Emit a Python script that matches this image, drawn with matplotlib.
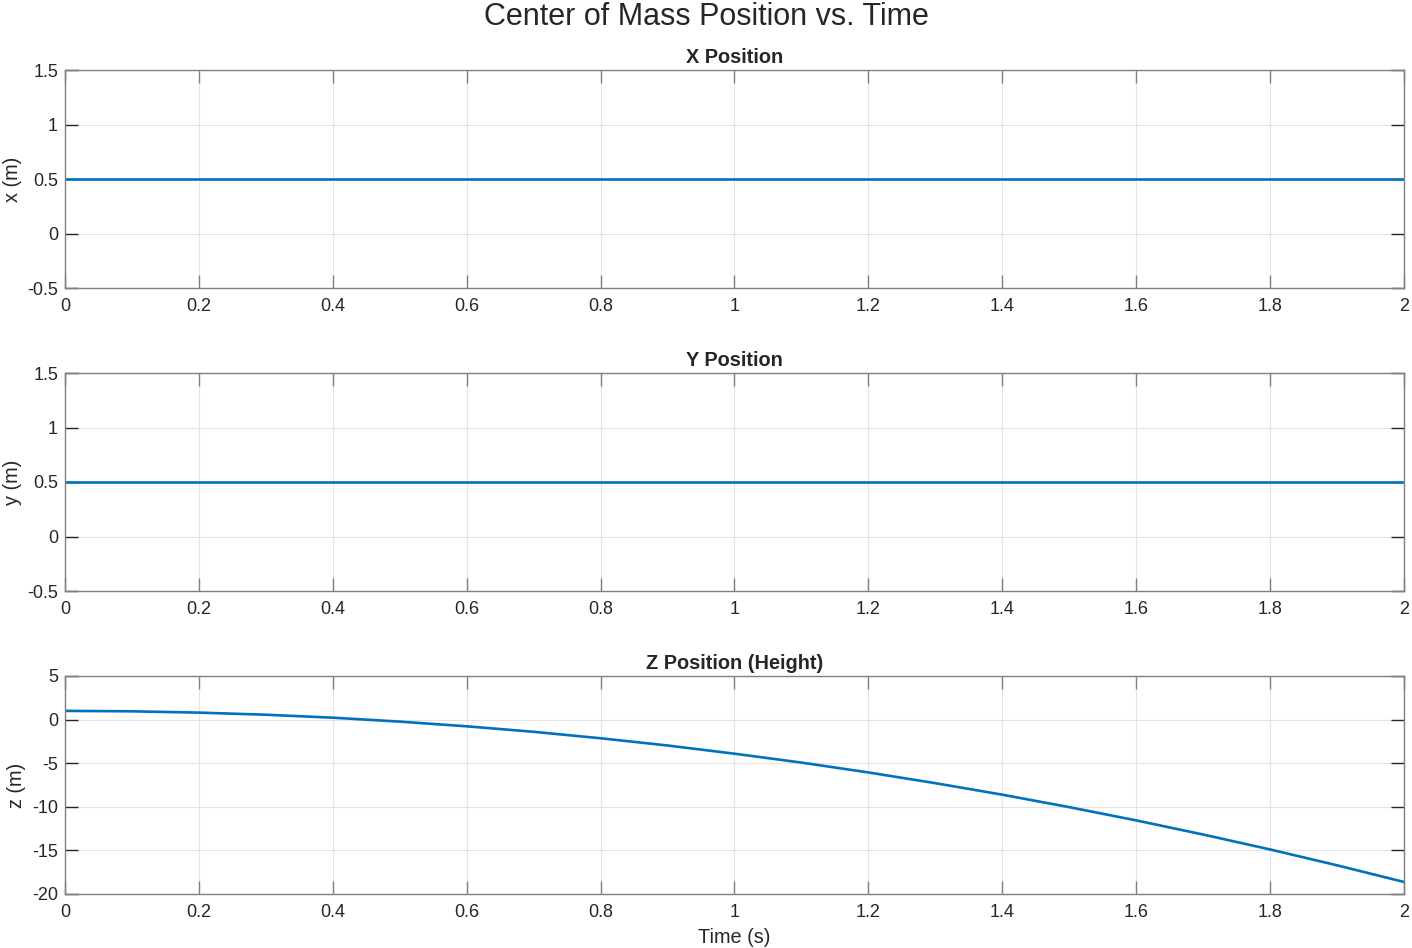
import numpy as np
import matplotlib.pyplot as plt

plt.rcParams['font.family'] = ['Liberation Sans', 'DejaVu Sans']

# time samples (s) and positions
t = [0.0, 0.1, 0.2, 0.3, 0.4, 0.5, 0.6, 0.7, 0.8, 0.9, 1.0,
     1.1, 1.2, 1.3, 1.4, 1.5, 1.6, 1.7, 1.8, 1.9, 2.0]
x_pos = [0.5] * len(t)
y_pos = [0.5] * len(t)
z_pos = [1.0, 0.95, 0.80, 0.56, 0.22, -0.23, -0.77, -1.40, -2.14, -2.97, -3.91,
         -4.93, -6.06, -7.29, -8.61, -10.04, -11.56, -13.18, -14.89, -16.71, -18.62]

titles = ['X Position', 'Y Position', 'Z Position (Height)']
ylabels = ['x (m)', 'y (m)', 'z (m)']
ylims = [(-0.5, 1.5), (-0.5, 1.5), (-20, 5)]
yticks = [[-0.5, 0, 0.5, 1, 1.5], [-0.5, 0, 0.5, 1, 1.5], [-20, -15, -10, -5, 0, 5]]
ytlabels = [['-0.5', '0', '0.5', '1', '1.5'], ['-0.5', '0', '0.5', '1', '1.5'],
            ['-20', '-15', '-10', '-5', '0', '5']]
xticks = [0, 0.2, 0.4, 0.6, 0.8, 1, 1.2, 1.4, 1.6, 1.8, 2]
xtlabels = ['0', '0.2', '0.4', '0.6', '0.8', '1', '1.2', '1.4', '1.6', '1.8', '2']

W, H = 1412, 948
fig = plt.figure(figsize=(W / 100, H / 100), dpi=100)

tops = [70, 373, 676]
ax_h = 218
left, right = 65, 1404

for i, data in enumerate([x_pos, y_pos, z_pos]):
    ax = fig.add_axes([left / W, 1 - (tops[i] + ax_h) / H, (right - left) / W, ax_h / H])
    ax.plot(t, data, color='#0072BD', lw=1.9)
    ax.set_xlim(0, 2)
    ax.set_ylim(*ylims[i])
    ax.set_xticks(xticks)
    ax.set_xticklabels(xtlabels)
    ax.set_yticks(yticks[i])
    ax.set_yticklabels(ytlabels[i])
    ax.grid(True, color='#e4e4e4', lw=0.8)
    ax.set_axisbelow(True)
    for s in ax.spines.values():
        s.set_color('#808080')
        s.set_linewidth(1.0)
    ax.tick_params(axis='both', direction='in', length=9.5, width=1.0,
                   labelsize=13, top=True, right=True, pad=5, colors='#262626')
    ax.tick_params(axis='x', color='#808080', pad=7)
    ax.set_ylabel(ylabels[i], fontsize=14.3, labelpad=4, color='#262626')
    ax.set_title(titles[i], fontsize=14.3, fontweight='bold', pad=5, color='#262626')
    if i == 2:
        ax.set_xlabel('Time (s)', fontsize=14.3, labelpad=5, color='#262626')

fig.suptitle('Center of Mass Position vs. Time', fontsize=22, y=1 - 17 / H,
             va='center', color='#262626')

fig.savefig('out.png', dpi=100)
